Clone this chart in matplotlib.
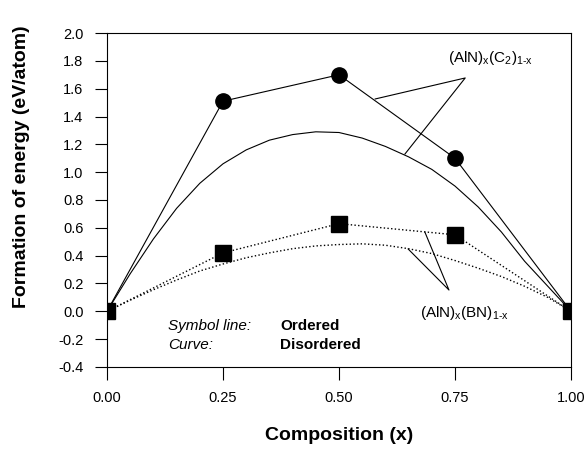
import matplotlib
matplotlib.use("Agg")
import matplotlib.pyplot as plt
import numpy as np

plt.rcParams['font.family'] = ['Liberation Sans', 'DejaVu Sans']
plt.rcParams['mathtext.fontset'] = 'custom'
plt.rcParams['mathtext.rm'] = 'Liberation Sans'
plt.rcParams['mathtext.it'] = 'Liberation Sans'

# ordered structures (symbols)
x_ord = [0.0, 0.25, 0.50, 0.75, 1.0]
c2_ord = [0.0, 1.51, 1.70, 1.10, 0.0]
bn_ord = [0.0, 0.42, 0.63, 0.55, 0.0]

# disordered alloys (curves)
x_dis = [0.0, 0.05, 0.10, 0.15, 0.20, 0.25, 0.30, 0.35, 0.40, 0.45, 0.50,
         0.55, 0.60, 0.65, 0.70, 0.75, 0.80, 0.85, 0.90, 0.95, 1.0]
c2_dis = [0.0, 0.27, 0.52, 0.74, 0.92, 1.06, 1.16, 1.23, 1.27, 1.29, 1.285,
          1.245, 1.185, 1.11, 1.02, 0.90, 0.75, 0.57, 0.36, 0.18, 0.0]
bn_dis = [0.0, 0.08, 0.155, 0.225, 0.29, 0.34, 0.385, 0.42, 0.45, 0.47, 0.48,
          0.485, 0.475, 0.45, 0.415, 0.365, 0.31, 0.25, 0.18, 0.10, 0.0]

fig = plt.figure(figsize=(5.86, 4.51), dpi=100)
ax = fig.add_axes([0.1826, 0.1863, 0.7918, 0.7405])

ax.plot(x_dis, c2_dis, '-', color='black', lw=0.8)
ax.plot(x_dis, bn_dis, ':', color='black', lw=1.0)
ax.plot(x_ord, c2_ord, '-', color='black', lw=0.8, marker='o', ms=11)
ax.plot(x_ord, bn_ord, ':', color='black', lw=1.0, marker='s', ms=11)

# pointer lines to the labels
ax.plot([0.578, 0.772, 0.642], [1.526, 1.677, 1.13], color='black', lw=0.8)
ax.plot([0.685, 0.737, 0.649], [0.570, 0.153, 0.448], color='black', lw=0.8)

ax.text(0.735, 1.82, r"(AlN)$_{\mathregular{x}}$(C$_{\mathregular{2}}$)$_{\mathregular{1\text{-}x}}$",
        fontsize=11, va='center', ha='left')
ax.text(0.675, -0.012, r"(AlN)$_{\mathregular{x}}$(BN)$_{\mathregular{1\text{-}x}}$",
        fontsize=11, va='center', ha='left')

ax.text(0.131, -0.105, "Symbol line:", style='italic', fontsize=11, va='center')
ax.text(0.131, -0.242, "Curve:", style='italic', fontsize=11, va='center')
ax.text(0.373, -0.105, "Ordered", weight='bold', fontsize=11, va='center')
ax.text(0.373, -0.242, "Disordered", weight='bold', fontsize=11, va='center')

ax.set_xlim(0, 1)
ax.set_ylim(-0.4, 2.0)
ax.set_xticks([0, 0.25, 0.5, 0.75, 1.0])
ax.set_xticklabels(['0.00', '0.25', '0.50', '0.75', '1.00'])
ax.set_yticks(np.arange(-0.4, 2.01, 0.2))
ax.set_yticklabels(['%.1f' % v for v in np.arange(-0.4, 2.01, 0.2)])
ax.tick_params(direction='out', length=9, width=0.8, labelsize=10.5, pad=8)
for s in ax.spines.values():
    s.set_linewidth(0.8)

ax.set_xlabel("Composition (x)", fontsize=14, weight='bold', labelpad=16)
ax.set_ylabel("Formation of energy (eV/atom)", fontsize=14, weight='bold')
ax.yaxis.set_label_coords(-0.166, 0.6)

fig.savefig('out.png', dpi=100)
